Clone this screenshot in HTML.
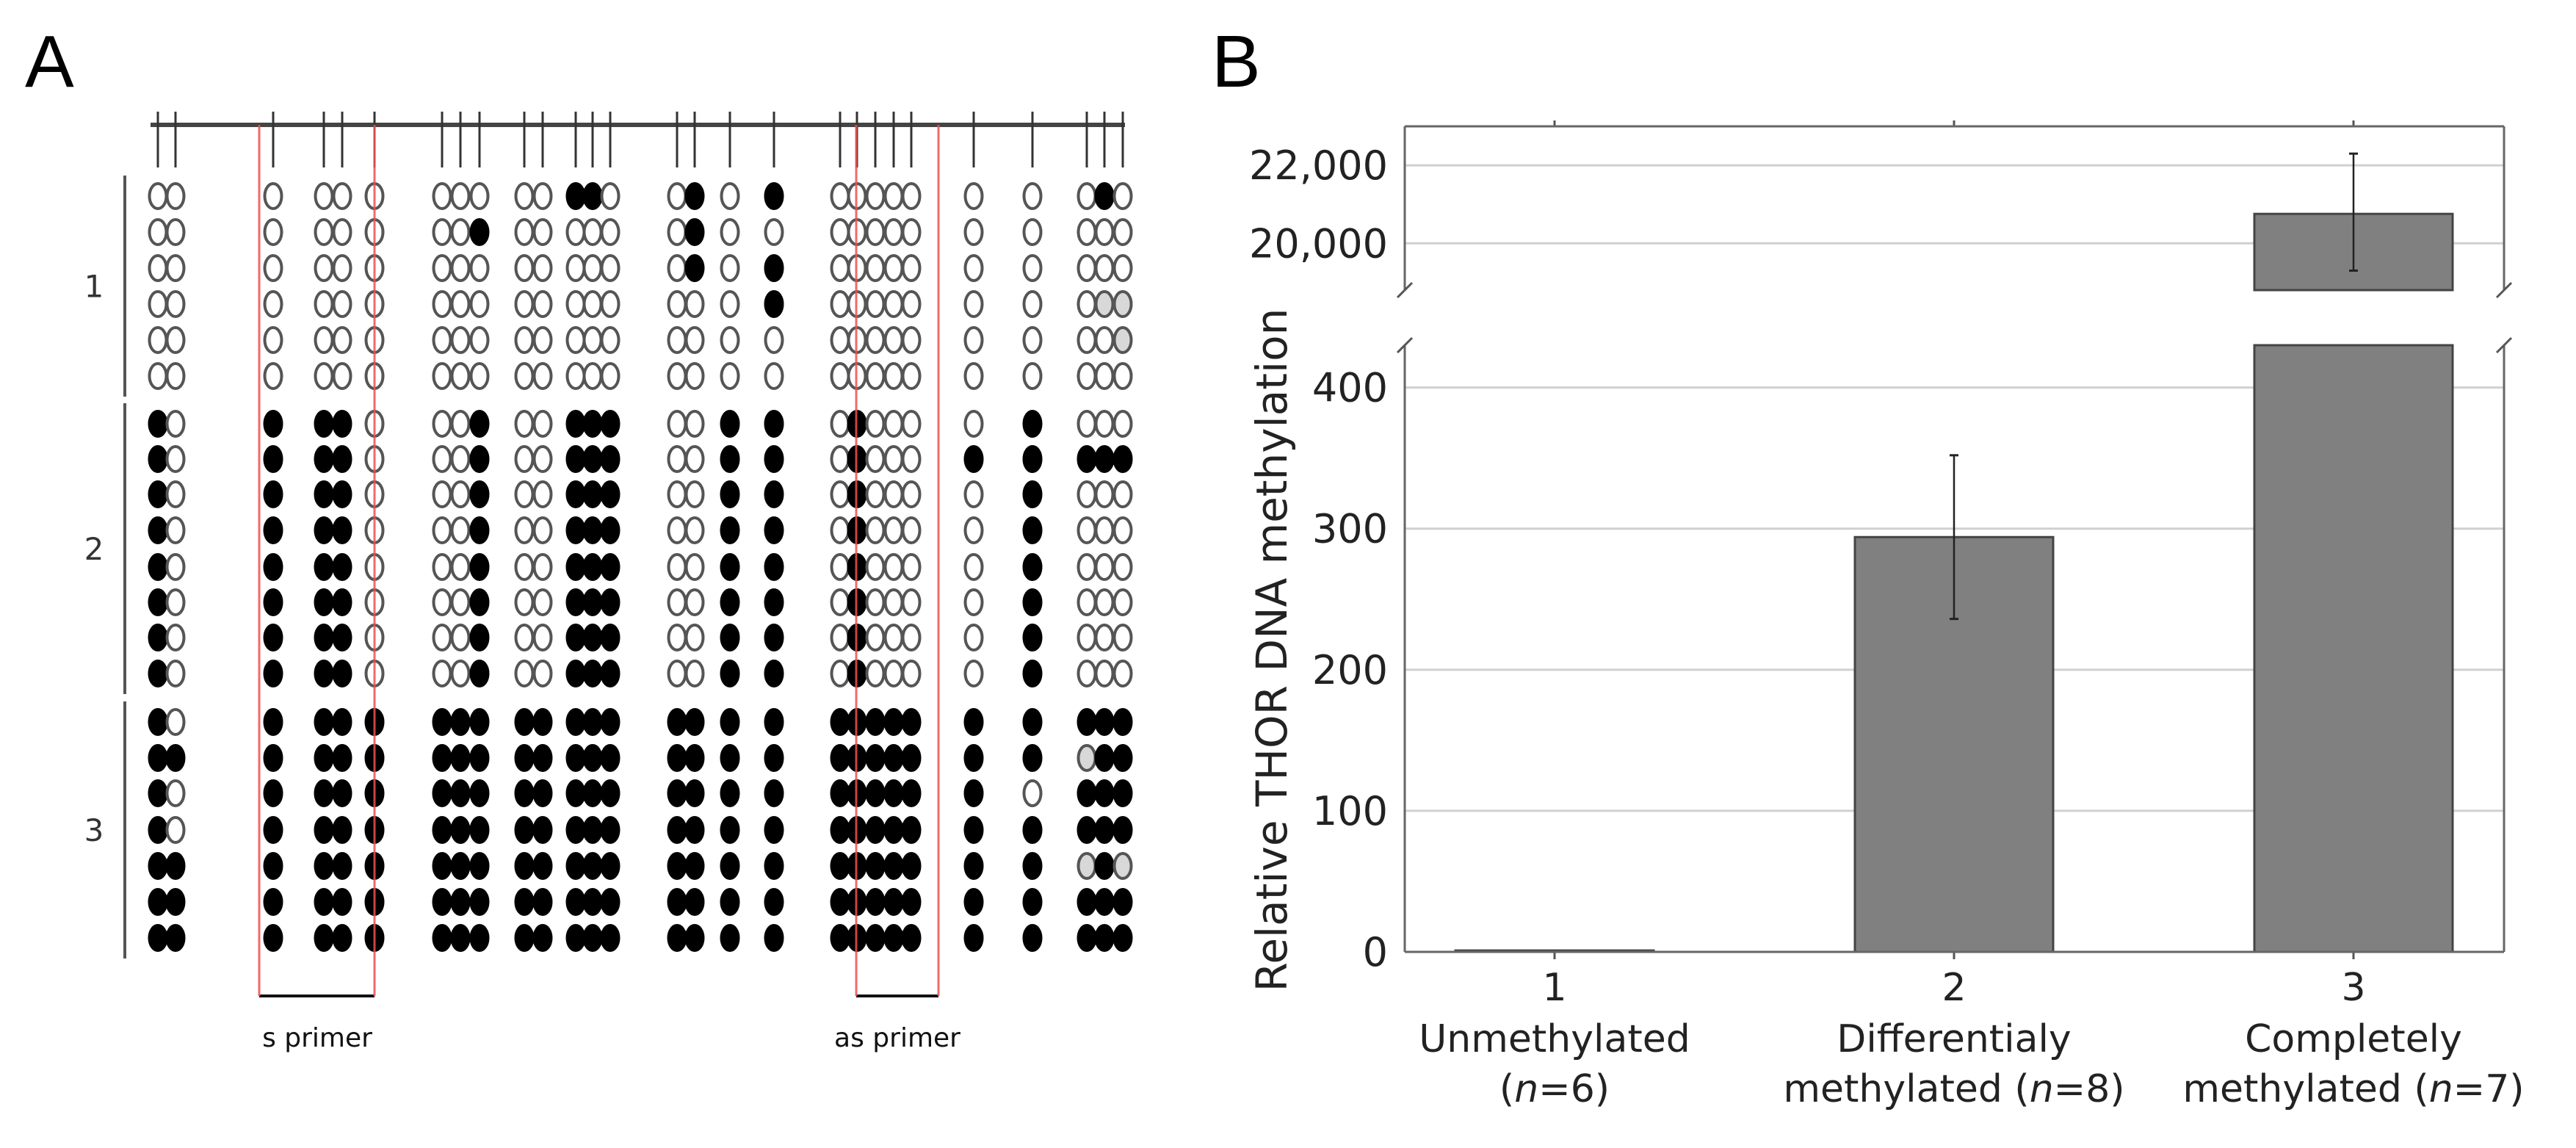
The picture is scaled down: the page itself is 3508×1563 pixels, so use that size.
<!DOCTYPE html>
<html><head><meta charset="utf-8"><style>
html,body{margin:0;padding:0;background:#fff;}
svg{display:block;font-family:"DejaVu Sans","Liberation Sans",sans-serif;}
</style></head><body>
<svg id="fig" width="3508" height="1563" viewBox="0 0 3508 1563">
<text x="34" y="118" font-size="100" font-family="Liberation Sans, sans-serif">A</text>
<text x="1650" y="118" font-size="100" font-family="Liberation Sans, sans-serif">B</text>
<g id="panelA"></g>
<g id="panelB"></g>
</svg>
<script>
// ---------- Panel A data ----------
const cpgX = [215,239,372,441,466,510,602,627,653,714,739,784,807,831,922,946,994,1054,1144,1167,1192,1217,1241,1326,1406,1480,1504,1529];
const group1 = [
"00 0 00 0 000 00 110 01 0 1 00000 0 0 010",
"00 0 00 0 001 00 000 01 0 0 00000 0 0 000",
"00 0 00 0 000 00 000 01 0 1 00000 0 0 000",
"00 0 00 0 000 00 000 00 0 1 00000 0 0 022",
"00 0 00 0 000 00 000 00 0 0 00000 0 0 002",
"00 0 00 0 000 00 000 00 0 0 00000 0 0 000"];
const group2 = [
"10 1 11 0 001 00 111 00 1 1 01000 0 1 000",
"10 1 11 0 001 00 111 00 1 1 01000 1 1 111",
"10 1 11 0 001 00 111 00 1 1 01000 0 1 000",
"10 1 11 0 001 00 111 00 1 1 01000 0 1 000",
"10 1 11 0 001 00 111 00 1 1 01000 0 1 000",
"10 1 11 0 001 00 111 00 1 1 01000 0 1 000",
"10 1 11 0 001 00 111 00 1 1 01000 0 1 000",
"10 1 11 0 001 00 111 00 1 1 01000 0 1 000"];
const group3 = [
"10 1 11 1 111 11 111 11 1 1 11111 1 1 111",
"11 1 11 1 111 11 111 11 1 1 11111 1 1 211",
"10 1 11 1 111 11 111 11 1 1 11111 1 0 111",
"10 1 11 1 111 11 111 11 1 1 11111 1 1 111",
"11 1 11 1 111 11 111 11 1 1 11111 1 1 212",
"11 1 11 1 111 11 111 11 1 1 11111 1 1 111",
"11 1 11 1 111 11 111 11 1 1 11111 1 1 111"];
const groupRowsY = [
 [267,316,365,414,463,512],
 [577,625,673,722,772,820,868,917],
 [983,1032,1080,1130,1179,1228,1277]];
const groupLabels = ["1","2","3"];

const NS="http://www.w3.org/2000/svg";
function mk(tag, attrs, parent){const e=document.createElementNS(NS,tag);for(const k in attrs)e.setAttribute(k,attrs[k]);parent.appendChild(e);return e;}
const A=document.getElementById('panelA');

let ln=mk('line',{x1:205,x2:1532,y1:170,y2:170,stroke:'#444','stroke-width':6},A);


cpgX.forEach(x=>{
  const t=mk('line',{x1:x,x2:x,y1:152,y2:228,stroke:'#333','stroke-width':3},A);
  
  
});
[[353,510],[1166,1278]].forEach((p,i)=>{
  const b=mk('line',{x1:p[0],x2:p[1],y1:1356,y2:1356,stroke:'#111','stroke-width':4},A);
  
  
});
const sp=mk('text',{x:432,y:1425,'font-size':36,'text-anchor':'middle',fill:'#111'},A);sp.textContent='s primer';


const ap=mk('text',{x:1222,y:1425,'font-size':36,'text-anchor':'middle',fill:'#111'},A);ap.textContent='as primer';



const groups=[group1,group2,group3];
groups.forEach((g,gi)=>{
  const ys=groupRowsY[gi];
  const y0=ys[0]-16, y1=ys[ys.length-1]+16;
  const gl=mk('line',{x1:170,x2:170,y1:y0-12,y2:y1+12,stroke:'#555','stroke-width':4},A);
  
  
  const tl=mk('text',{x:128,y:(y0+y1)/2+15,'font-size':42,'text-anchor':'middle',fill:'#333'},A);
  tl.textContent=groupLabels[gi];
  
  
  g.forEach((rowStr,ri)=>{
    const row=rowStr.replace(/ /g,'');
    for(let c=0;c<cpgX.length;c++){
      const v=row[c];
      const e=mk('ellipse',{cx:cpgX[c],cy:ys[ri],rx:11.5,ry:17,
        fill: v==='1'?'#000':(v==='2'?'#d8d8d8':'#fff'),
        stroke: v==='1'?'#000':'#555','stroke-width':4},A);
      
      
    }
  });
});
[353,510,1166,1278].forEach(x=>{
  const r=mk('line',{x1:x,x2:x,y1:170,y2:1356,stroke:'#f05050','stroke-width':3,opacity:0.85},A);
  
  
});

// ---------- Panel B data ----------
const categories = ["1","2","3"];
const catLine1 = ["Unmethylated","Differentialy","Completely"];
const catLine2a = ["(","methylated (","methylated ("];
const catN = ["6","8","7"];
const values = [1, 294, 20755];
const errLow = [0, 236, 19300];
const errHigh = [0, 352, 22300];
const lowTicks = [0,100,200,300,400];
const lowTickLabels = ["0","100","200","300","400"];
const highTicks = [20000,22000];
const highTickLabels = ["20,000","22,000"];

const B=document.getElementById('panelB');
const L=1913, R=3410, T=172, BOT=1296;
const loY0=1296, loY1=470, loMax=430;
const hiY0=395, hiY1=172, hiMin=18800, hiMax=23000;
const yLo=v=>loY0-(v/loMax)*(loY0-loY1);
const yHi=v=>hiY0-(v-hiMin)/(hiMax-hiMin)*(hiY0-hiY1);
const xC=i=>2117+i*544;
const bw=270;

lowTicks.forEach((t,i)=>{
  const y=yLo(t);
  if(t>0){const g=mk('line',{x1:L,x2:R,y1:y,y2:y,stroke:'#d0d0d0','stroke-width':3},B);
  
  }
  const tx=mk('text',{x:1890,y:y+19,'font-size':54,'text-anchor':'end',fill:'#222'},B);
  tx.textContent=lowTickLabels[i];
  
  
});
highTicks.forEach((t,i)=>{
  const y=yHi(t);
  const g=mk('line',{x1:L,x2:R,y1:y,y2:y,stroke:'#d0d0d0','stroke-width':3},B);
  
  
  const tx=mk('text',{x:1890,y:y+19,'font-size':54,'text-anchor':'end',fill:'#222'},B);
  tx.textContent=highTickLabels[i];
  
  
});

values.forEach((v,i)=>{
  const cx=xC(i), x=cx-bw/2;
  if(v<=loMax){
    const r=mk('rect',{x:x,y:yLo(v),width:bw,height:loY0-yLo(v),fill:'#808080',stroke:'#444','stroke-width':3},B);
    
    
  } else {
    const r=mk('rect',{x:x,y:loY1,width:bw,height:loY0-loY1,fill:'#808080',stroke:'#444','stroke-width':3},B);
    
    
    const r2=mk('rect',{x:x,y:yHi(v),width:bw,height:hiY0-yHi(v),fill:'#808080',stroke:'#444','stroke-width':3},B);
    
    
  }
  if(errHigh[i]>0){
    const f=v<=loMax?yLo:yHi;
    const e=mk('line',{x1:cx,x2:cx,y1:f(errLow[i]),y2:f(errHigh[i]),stroke:'#222','stroke-width':2.5},B);
    
    
    [errLow[i],errHigh[i]].forEach(ev=>{
      const c=mk('line',{x1:cx-6,x2:cx+6,y1:f(ev),y2:f(ev),stroke:'#222','stroke-width':3},B);
      
      
    });
  }
  const lbs=[[categories[i],1362],[catLine1[i],1432],[null,1500]];
  lbs.forEach(([s,y],k)=>{
    const t=mk('text',{x:cx,y:y,'font-size':52,'text-anchor':'middle',fill:'#222'},B);
    if(k<2){t.textContent=s;}
    else{
      t.appendChild(document.createTextNode(catLine2a[i]));
      const it=mk('tspan',{'font-style':'italic'},t);it.textContent='n';
      t.appendChild(document.createTextNode('='+catN[i]+')'));
    }
    
    
  });
  [[T,T-8],[BOT,BOT+10]].forEach(([a,b])=>{
    const tk=mk('line',{x1:cx,x2:cx,y1:a,y2:b,stroke:'#555','stroke-width':3},B);
    
    
  });
});

const fr=[[L,T,R,T],[L,BOT,R,BOT],[L,T,L,hiY0],[L,loY1,L,BOT],[R,T,R,hiY0],[R,loY1,R,BOT]];
fr.forEach(s=>{
  const l=mk('line',{x1:s[0],y1:s[1],x2:s[2],y2:s[3],stroke:'#666','stroke-width':3},B);
  
  
});
[[L,hiY0],[L,loY1],[R,hiY0],[R,loY1]].forEach(p=>{
  const l=mk('line',{x1:p[0]-10,y1:p[1]+10,x2:p[0]+10,y2:p[1]-10,stroke:'#555','stroke-width':3},B);
  
  
});
const yl=mk('text',{x:0,y:0,'font-size':58,'text-anchor':'middle',fill:'#222',transform:'translate(1752,885) rotate(-90)'},B);
yl.textContent='Relative THOR DNA methylation';


</script>
</body></html>
